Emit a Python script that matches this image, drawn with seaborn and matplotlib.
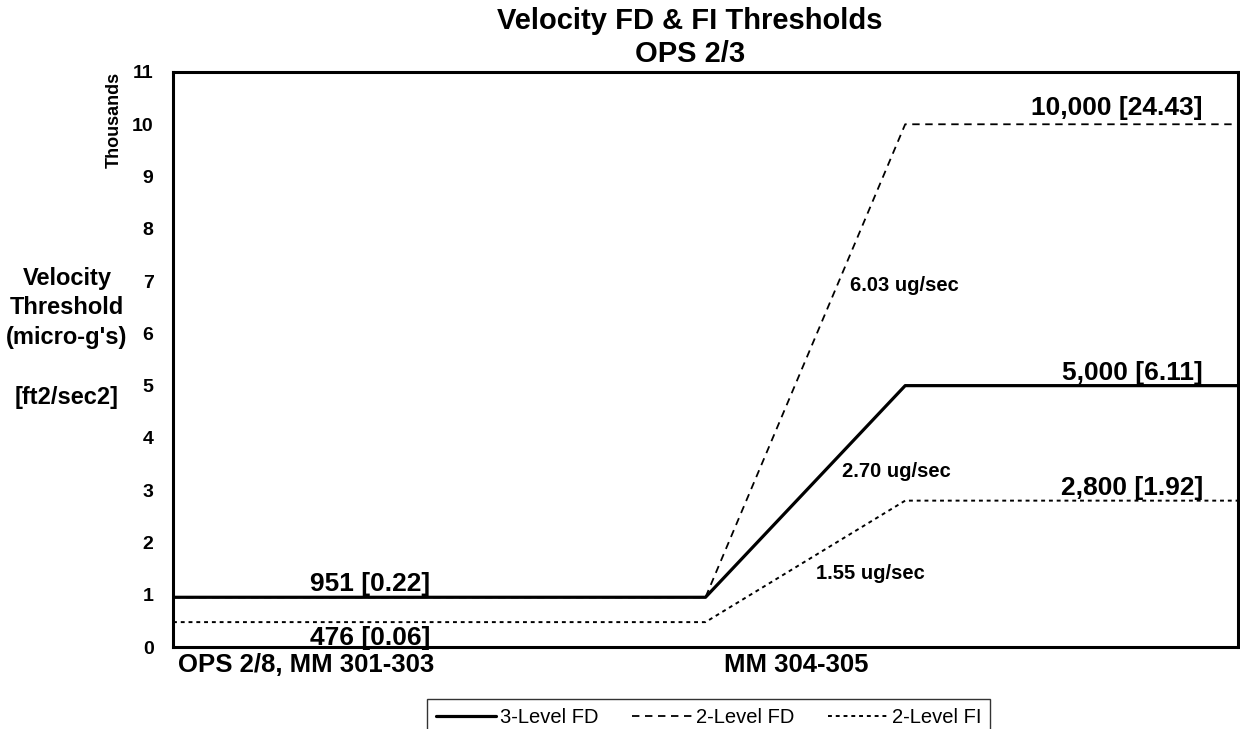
import pandas as pd
import seaborn as sns
import matplotlib.pyplot as plt
from matplotlib.lines import Line2D
from matplotlib.ticker import FuncFormatter

# data (x in seconds, y in micro-g's)
time_s = [0, 4000, 5500, 8000]
fd_3level = [951, 951, 5000, 5000]
fd_2level = [951, 951, 10000, 10000]
fi_2level = [476, 476, 2800, 2800]
series_names = ['3-Level FD', '2-Level FD', '2-Level FI']
phase_labels = ['OPS 2/8, MM 301-303', 'MM 304-305']
phase_starts = [0, 4000]
level_labels = ['10,000 [24.43]', '5,000 [6.11]', '2,800 [1.92]']
level_values = [10000, 5000, 2800]
base_labels = ['951 [0.22]', '476 [0.06]']
slope_labels = ['6.03 ug/sec', '2.70 ug/sec', '1.55 ug/sec']

df = pd.DataFrame({
    'time': time_s * 3,
    'value': fd_3level + fd_2level + fi_2level,
    'series': [s for s in series_names for _ in time_s],
})

sns.set_style('white')
plt.rcParams['font.family'] = ['Liberation Sans', 'DejaVu Sans']
plt.rcParams['text.color'] = 'black'
plt.rcParams['axes.labelcolor'] = 'black'
plt.rcParams['xtick.color'] = 'black'
plt.rcParams['ytick.color'] = 'black'

W, H = 1240, 729
fig = plt.figure(figsize=(W / 100, H / 100), dpi=100)
ax = fig.add_axes([173 / W, 1 - 647 / H, 1065 / W, 575 / H])

dash_map = {'3-Level FD': '', '2-Level FD': (4.1, 3.1), '2-Level FI': (2.0, 2.0)}
width_map = {'3-Level FD': 2.3, '2-Level FD': 1.3, '2-Level FI': 1.4}
sns.lineplot(data=df, x='time', y='value', style='series', size='series',
             dashes=dash_map, sizes=width_map, color='black', legend=False, ax=ax)

ax.set_xlim(0, 8000)
ax.set_ylim(0, 11000)
ax.set_xlabel('')
ax.set_ylabel('')

ax.set_yticks(range(0, 12000, 1000))
ax.yaxis.set_major_formatter(FuncFormatter(lambda v, p: f'{v / 1000:.0f}'))
ax.tick_params(axis='y', direction='out', length=6, width=0.8, pad=8,
               labelsize=14, colors='black')
for t in ax.get_yticklabels():
    t.set_fontweight('bold')
ax.set_xticks([0, 4000, 8000])
ax.set_xticklabels(['', '', ''])
ax.tick_params(axis='x', direction='inout', length=12, width=2.2)
for sp in ax.spines.values():
    sp.set_linewidth(2.2)
    sp.set_color('black')

# category labels along the x axis
for lab, x0 in zip(phase_labels, phase_starts):
    ax.annotate(lab, xy=(x0, 0), xycoords=('data', 'axes fraction'),
                xytext=(5 if x0 == 0 else 18, -6), textcoords='offset pixels',
                ha='left', va='top', fontsize=18.5, fontweight='bold')

# level labels
for lab, v in zip(level_labels, level_values):
    ax.text(7737, v + (180 if v == 10000 else 110), lab, ha='right', va='baseline',
            fontsize=19, fontweight='bold')
ax.text(1480, 1071, base_labels[0], ha='center', va='baseline', fontsize=19, fontweight='bold')
ax.text(1480, 38, base_labels[1], ha='center', va='baseline', fontsize=19, fontweight='bold')

# slope labels
ax.text(5085, 6811, slope_labels[0], ha='left', va='baseline', fontsize=14.5, fontweight='bold')
ax.text(5025, 3252, slope_labels[1], ha='left', va='baseline', fontsize=14.5, fontweight='bold')
ax.text(4830, 1301, slope_labels[2], ha='left', va='baseline', fontsize=14.5, fontweight='bold')

# titles
fig.text(690 / W, 1 - 29 / H, 'Velocity FD & FI Thresholds', ha='center', va='baseline',
         fontsize=21, fontweight='bold')
fig.text(690 / W, 1 - 62 / H, 'OPS 2/3', ha='center', va='baseline',
         fontsize=21, fontweight='bold')

# y axis label block
fig.text(114 / W, 1 - 120 / H, 'Thousands', rotation=90, ha='center', va='center',
         fontsize=13, fontweight='bold')
fig.text(67 / W, 1 - 308 / H, "Velocity\nThreshold\n(micro-g's)", ha='center', va='center',
         fontsize=17, fontweight='bold', linespacing=1.35)
fig.text(67 / W, 1 - 404 / H, '[ft2/sec2]', ha='center', va='baseline',
         fontsize=17, fontweight='bold')

handles = [Line2D([], [], color='black', linewidth=width_map[s],
                  dashes=dash_map[s] if dash_map[s] else (None, None)) for s in series_names]
handles[0].set_linestyle('-')
leg = fig.legend(handles, series_names, loc='upper left', bbox_to_anchor=(427 / W, 1 - 699 / H),
                 ncol=3, fontsize=14.5, frameon=True, fancybox=False, handlelength=3.0,
                 handletextpad=0.15, columnspacing=1.7, borderpad=0.45, borderaxespad=0)
leg.get_frame().set_edgecolor('black')
leg.get_frame().set_linewidth(1.0)

fig.savefig('out.png', dpi=100)
